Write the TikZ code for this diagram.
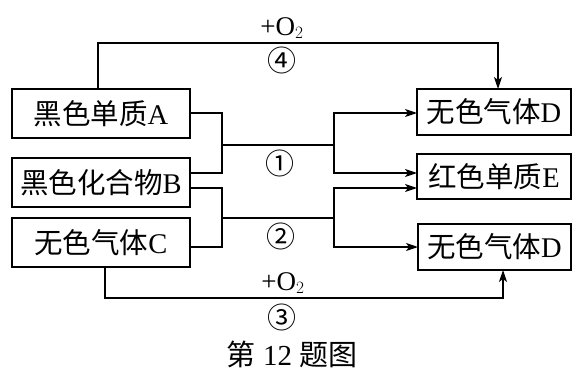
\documentclass[tikz,border=0pt]{standalone}
\usepackage{fontspec}
\setmainfont{Liberation Serif}
\newfontfamily\cjk{Noto Sans CJK SC}
\usetikzlibrary{arrows.meta}
\begin{document}
\begin{tikzpicture}[x=1pt,y=-1pt,
  line width=1.3pt,
  box/.style={draw,line width=1.3pt,inner sep=0pt,anchor=center,font=\fontsize{28.5}{30}\selectfont},
  arr/.style={-{Stealth[length=12pt,width=8pt,inset=3pt]}},
  lbl/.style={font=\fontsize{27}{29}\selectfont,inner sep=0pt},
  num/.style={font=\cjk\fontsize{29}{31}\selectfont,inner sep=0pt}]
\useasboundingbox (0,0) rectangle (577,372);
% boxes
\node[box,minimum width=178pt,minimum height=49pt] (A) at (101,113.5) {{\cjk 黑色单质}A};
\node[box,minimum width=178pt,minimum height=49pt] (B) at (101,182.5) {{\cjk 黑色化合物}B};
\node[box,minimum width=178pt,minimum height=49pt] (C) at (101,242.5) {{\cjk 无色气体}C};
\node[box,minimum width=154pt,minimum height=46pt] (D1) at (494,112) {{\cjk 无色气体}D};
\node[box,minimum width=154pt,minimum height=45pt] (E) at (494,176.5) {{\cjk 红色单质}E};
\node[box,minimum width=153pt,minimum height=46pt] (D2) at (494.5,247) {{\cjk 无色气体}D};
% coordinates
\coordinate (b1) at (190,173);
\coordinate (b2) at (190,188);
\coordinate (c1) at (190,247);
\coordinate (a1) at (190,113);
\coordinate (j1) at (222,145);
\coordinate (k1) at (334,145);
\coordinate (j2) at (222,218);
\coordinate (k2) at (334,218);
\coordinate (e1) at (417,173);
\coordinate (e2) at (417,188);
\coordinate (d1w) at (417,113);
\coordinate (d2w) at (418,247);
\coordinate (a0) at (98,89);
\coordinate (t4) at (282,43);
\coordinate (d1t) at (498,89);
\coordinate (c0) at (105,267);
\coordinate (t3) at (282,298);
\coordinate (d2b) at (503,270);
% reaction 1
\draw (a1) -| (j1) |- (b1);
\draw (j1) -- (k1);
\draw[arr] (k1) |- (d1w);
\draw[arr] (k1) |- (e1);
% reaction 2
\draw (b2) -| (j2) |- (c1);
\draw (j2) -- (k2);
\draw[arr] (k2) |- (e2);
\draw[arr] (k2) |- (d2w);
% reaction 4
\draw[arr] (a0) |- (t4) -| (d1t);
% reaction 3
\draw[arr] (c0) |- (t3) -| (d2b);
% labels
\node[lbl] (o4) at (282,28) {+O$_2$};
\node[num] (n4) at (282,60) {④};
\node[num] (n1) at (280,163) {①};
\node[num] (n2) at (281,236) {②};
\node[lbl] (o3) at (283,283) {+O$_2$};
\node[num] (n3) at (282,317) {③};
\node[font=\fontsize{29}{31}\selectfont,inner sep=0pt] (cap) at (292,354) {{\cjk 第} 12 {\cjk 题图}};
\end{tikzpicture}
\end{document}
